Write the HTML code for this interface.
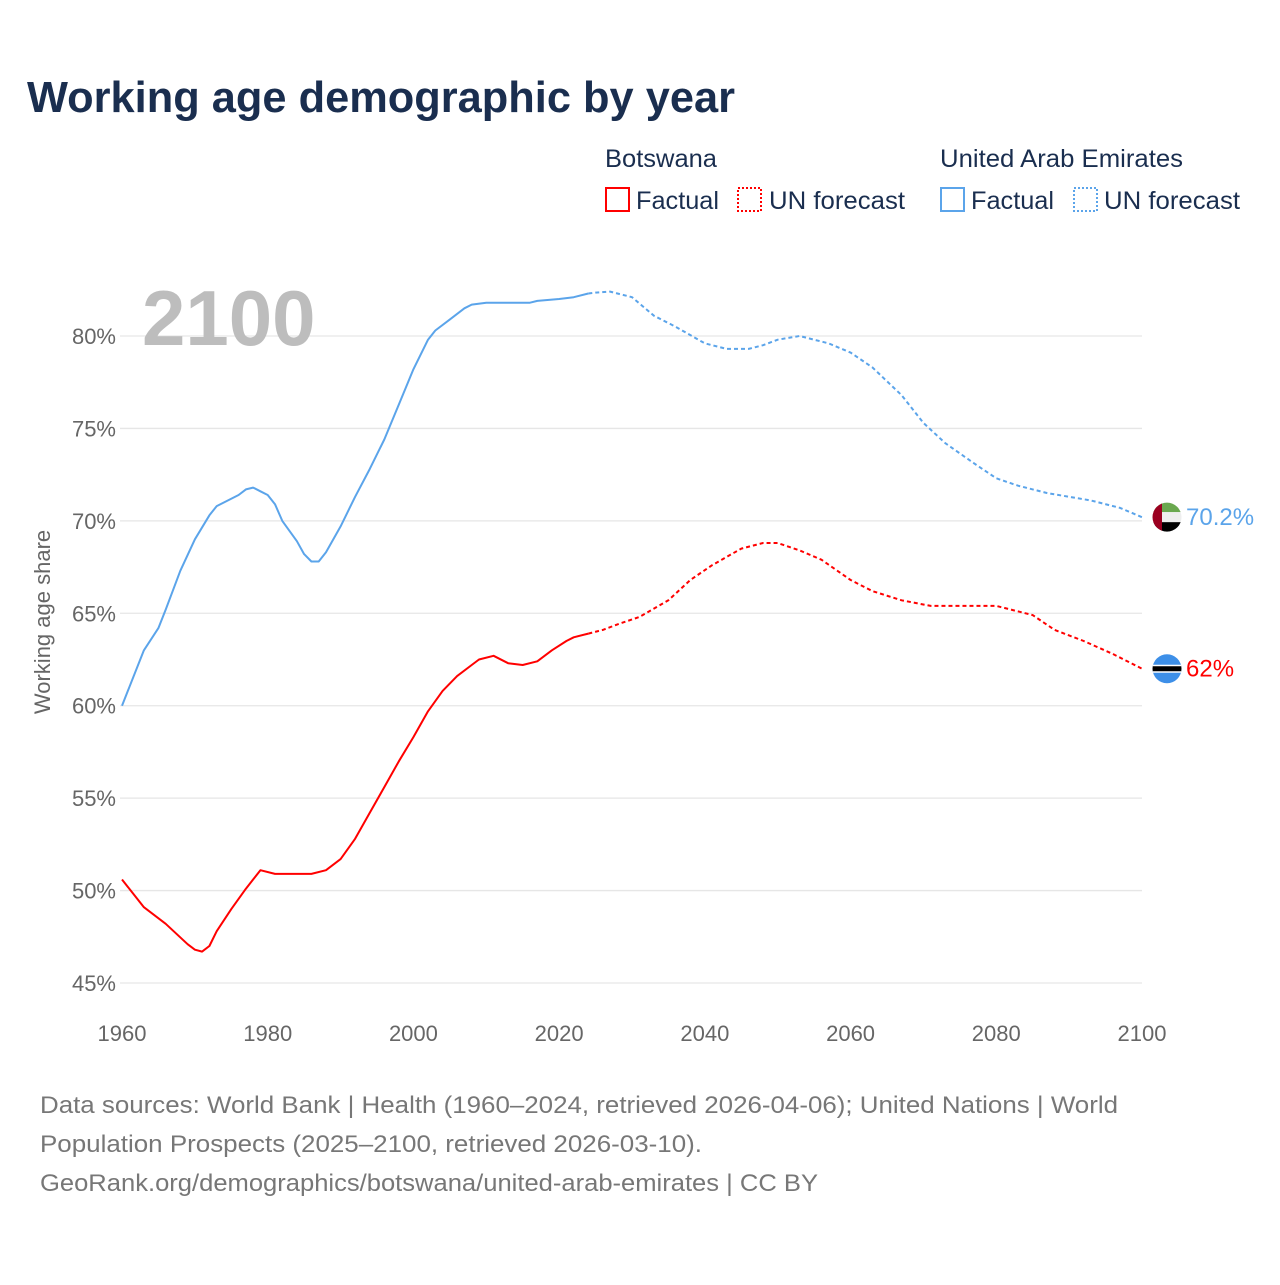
<!DOCTYPE html>
<html><head><meta charset="utf-8"><style>
body{margin:0;background:#fff;}
svg text{font-family:"Liberation Sans",sans-serif;}
</style></head><body>
<svg id="chart" width="1280" height="1280" viewBox="0 0 1280 1280" xmlns="http://www.w3.org/2000/svg">
<rect width="1280" height="1280" fill="#fff"/>
<text x="27" y="112" font-size="44" font-weight="bold" fill="#1a2e4f" textLength="708" lengthAdjust="spacingAndGlyphs">Working age demographic by year</text>
<g>
<text x="605" y="167" font-size="25" fill="#1a2e4f" textLength="112" lengthAdjust="spacingAndGlyphs">Botswana</text>
<rect x="606" y="188" width="23" height="23" fill="none" stroke="#f00" stroke-width="2"/>
<text x="636" y="209" font-size="25" fill="#1a2e4f" textLength="83" lengthAdjust="spacingAndGlyphs">Factual</text>
<rect x="738" y="188" width="23" height="23" fill="none" stroke="#f00" stroke-width="2" stroke-dasharray="2,2"/>
<text x="769" y="209" font-size="25" fill="#1a2e4f" textLength="136" lengthAdjust="spacingAndGlyphs">UN forecast</text>
<text x="940" y="167" font-size="25" fill="#1a2e4f" textLength="243" lengthAdjust="spacingAndGlyphs">United Arab Emirates</text>
<rect x="941" y="188" width="23" height="23" fill="none" stroke="#5ba4ea" stroke-width="2"/>
<text x="971" y="209" font-size="25" fill="#1a2e4f" textLength="83" lengthAdjust="spacingAndGlyphs">Factual</text>
<rect x="1074" y="188" width="23" height="23" fill="none" stroke="#5ba4ea" stroke-width="2" stroke-dasharray="2,2"/>
<text x="1104" y="209" font-size="25" fill="#1a2e4f" textLength="136" lengthAdjust="spacingAndGlyphs">UN forecast</text>
</g>
<g id="grid"></g>
<text x="142" y="345" font-size="78" font-weight="bold" fill="#bdbdbd">2100</text>
<text transform="translate(50,622) rotate(-90)" text-anchor="middle" font-size="22" fill="#666">Working age share</text>
<g id="series"></g>
<g font-size="24" fill="#777">
<text x="40" y="1113" textLength="1078" lengthAdjust="spacingAndGlyphs">Data sources: World Bank | Health (1960–2024, retrieved 2026-04-06); United Nations | World</text>
<text x="40" y="1152" textLength="662" lengthAdjust="spacingAndGlyphs">Population Prospects (2025–2100, retrieved 2026-03-10).</text>
<text x="40" y="1191" textLength="778" lengthAdjust="spacingAndGlyphs">GeoRank.org/demographics/botswana/united-arab-emirates | CC BY</text>
</g>
</svg>
<script>
const yTicks=[45,50,55,60,65,70,75,80];
const xTicks=[1960,1980,2000,2020,2040,2060,2080,2100];
const uaeYears=[1960,1963,1965,1966,1968,1970,1972,1973,1976,1977,1978,1979,1980,1981,1982,1984,1985,1986,1987,1988,1990,1992,1994,1996,1998,2000,2002,2003,2005,2007,2008,2010,2016,2017,2020,2022,2024];
const uaeValues=[60.0,63.0,64.2,65.2,67.3,69.0,70.3,70.8,71.4,71.7,71.8,71.6,71.4,70.9,70.0,68.9,68.2,67.8,67.8,68.3,69.7,71.3,72.8,74.4,76.3,78.2,79.8,80.3,80.9,81.5,81.7,81.8,81.8,81.9,82.0,82.1,82.3];
const uaeFcYears=[2024,2025,2027,2030,2033,2036,2040,2043,2046,2048,2050,2053,2057,2060,2063,2067,2070,2073,2077,2080,2083,2087,2090,2093,2097,2100];
const uaeFcValues=[82.3,82.35,82.4,82.1,81.1,80.5,79.6,79.3,79.3,79.5,79.8,80.0,79.6,79.1,78.3,76.8,75.3,74.2,73.1,72.3,71.9,71.5,71.3,71.1,70.7,70.2];
const bwYears=[1960,1963,1966,1969,1970,1971,1972,1973,1975,1977,1978,1979,1981,1986,1988,1990,1992,1994,1996,1998,2000,2002,2004,2006,2008,2009,2011,2013,2015,2017,2019,2021,2022,2024];
const bwValues=[50.6,49.1,48.2,47.1,46.8,46.7,47.0,47.8,49.0,50.1,50.6,51.1,50.9,50.9,51.1,51.7,52.8,54.2,55.6,57.0,58.3,59.7,60.8,61.6,62.2,62.5,62.7,62.3,62.2,62.4,63.0,63.5,63.7,63.9];
const bwFcYears=[2024,2026,2028,2031,2035,2038,2041,2045,2048,2050,2053,2056,2060,2063,2067,2071,2075,2080,2085,2088,2092,2096,2100];
const bwFcValues=[63.9,64.1,64.4,64.8,65.7,66.8,67.6,68.5,68.8,68.8,68.4,67.9,66.8,66.2,65.7,65.4,65.4,65.4,64.9,64.1,63.5,62.8,62.0];

const NS="http://www.w3.org/2000/svg";
const xS=y=>122+(y-1960)*(1020/140);
const yS=v=>336+(80-v)*(647/35);
const grid=document.getElementById('grid'), ser=document.getElementById('series');
function mk(tag,attrs,parent){const e=document.createElementNS(NS,tag);for(const k in attrs)e.setAttribute(k,attrs[k]);parent.appendChild(e);return e;}
yTicks.forEach(t=>{
  const l=mk('line',{x1:120,x2:1142,y1:yS(t),y2:yS(t),stroke:'#e6e6e6','stroke-width':1.3},grid);
  
  
  const tx=mk('text',{x:116,y:yS(t)+8,'text-anchor':'end','font-size':22,fill:'#666'},grid);
  tx.textContent=t+'%';
  
  
});
xTicks.forEach(t=>{
  const tx=mk('text',{x:xS(t),y:1041,'text-anchor':'middle','font-size':22,fill:'#666'},grid);
  tx.textContent=t;
  
  
});
function line(xs,vs,color,dash,name){
  const d=xs.map((x,i)=>(i?'L':'M')+xS(x).toFixed(1)+','+yS(vs[i]).toFixed(1)).join('');
  const p=mk('path',{d:d,fill:'none',stroke:color,'stroke-width':2,'stroke-linejoin':'round'},ser);
  if(dash)p.setAttribute('stroke-dasharray','4,3');
  
  
}
line(uaeYears,uaeValues,'#5ba4ea',false,'uae-factual-line');
line(uaeFcYears,uaeFcValues,'#5ba4ea',true,'uae-forecast-line');
line(bwYears,bwValues,'#f00',false,'botswana-factual-line');
line(bwFcYears,bwFcValues,'#f00',true,'botswana-forecast-line');

const uaeEnd=uaeFcValues[uaeFcValues.length-1], bwEnd=bwFcValues[bwFcValues.length-1];
const cx=1167;
const uy=yS(uaeEnd), by=yS(bwEnd);
const uf=mk('g',{},ser);


const cp=mk('clipPath',{id:'cu'},uf);mk('circle',{cx:cx,cy:uy,r:14.5},cp);
const ug=mk('g',{'clip-path':'url(#cu)'},uf);
mk('rect',{x:cx-15,y:uy-15,width:30,height:10,fill:'#6aa84f'},ug);
mk('rect',{x:cx-15,y:uy-5,width:30,height:10,fill:'#eee'},ug);
mk('rect',{x:cx-15,y:uy+5,width:30,height:10,fill:'#000'},ug);
mk('rect',{x:cx-15,y:uy-15,width:10,height:30,fill:'#9b0020'},ug);
const ul=mk('text',{x:1186,y:uy+8,'font-size':24,fill:'#5ba4ea'},ser);
ul.textContent=uaeEnd+'%';


const bf=mk('g',{},ser);


const cp2=mk('clipPath',{id:'cb'},bf);mk('circle',{cx:cx,cy:by,r:14.5},cp2);
const bg=mk('g',{'clip-path':'url(#cb)'},bf);
mk('rect',{x:cx-15,y:by-15,width:30,height:30,fill:'#3d8fe8'},bg);
mk('rect',{x:cx-15,y:by-4,width:30,height:8,fill:'#fff'},bg);
mk('rect',{x:cx-15,y:by-2.5,width:30,height:5,fill:'#000'},bg);
const bl=mk('text',{x:1186,y:by+8,'font-size':24,fill:'#f00'},ser);
bl.textContent=bwEnd+'%';


</script>
</body></html>
